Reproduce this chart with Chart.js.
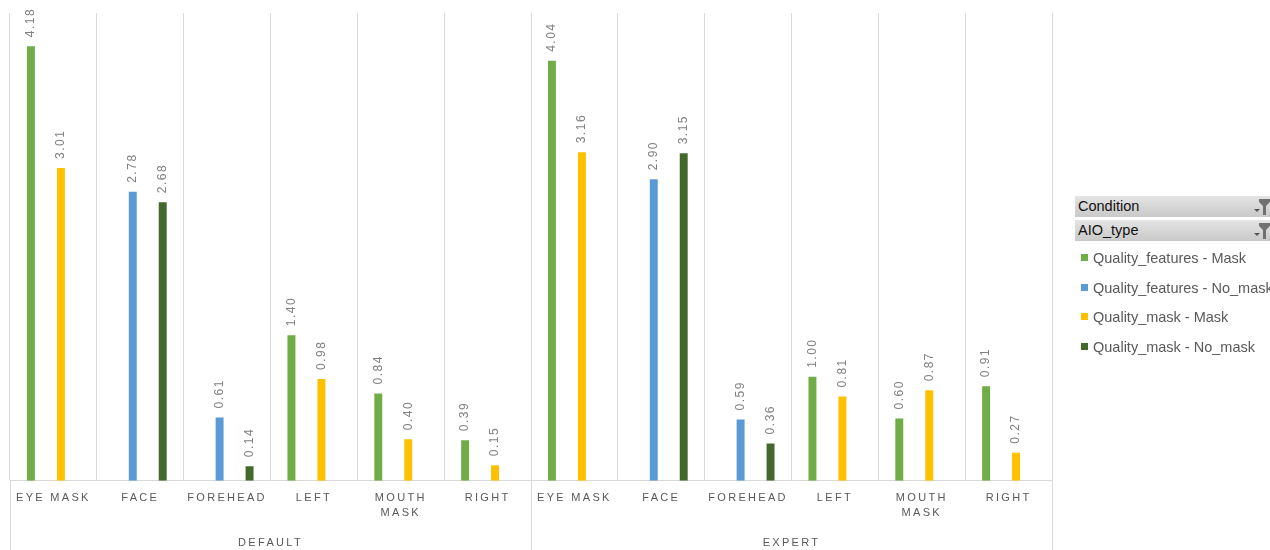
<!DOCTYPE html>
<html>
<head>
<meta charset="utf-8">
<script src="https://cdn.jsdelivr.net/npm/chart.js@4.4.1/dist/chart.umd.min.js"></script>
<style>
  html, body { margin: 0; padding: 0; background: #fff; overflow: hidden; }
  #wrap { position: relative; width: 1270px; height: 550px; overflow: hidden; }
  #canvas1 { position: absolute; left: 0; top: 0; }
  .fbtn {
    position: absolute; left: 1075px; width: 200px; height: 21px;
    background: linear-gradient(#e4e4e4, #c9c9c9);
    font: 14.5px "Liberation Sans", sans-serif; color: #111;
    line-height: 21px; padding-left: 3px; box-sizing: border-box;
  }
  .fbtn svg { position: absolute; left: 175px; top: 2px; }
  #legend { position: absolute; left: 1081px; top: 248px; width: 189px; overflow: hidden; }
  .item { height: 29.7px; white-space: nowrap; font: 14.5px "Liberation Sans", sans-serif; color: #595959; line-height: 20px; }
  .item i { display: inline-block; width: 7px; height: 7px; margin-right: 5px; vertical-align: 2px; }
</style>
</head>
<body>
<div id="wrap">
  <canvas id="canvas1" width="1270" height="557"></canvas>
  <div class="fbtn" style="top:196px">Condition<svg width="20" height="18"><polygon points="4,11 10,11 7,14" fill="#555"/><polygon points="9,1 20,1 20,4 16,8 16,17 13,17 13,8 9,4" fill="#707070"/></svg></div>
  <div class="fbtn" style="top:220px">AIO_type<svg width="20" height="18"><polygon points="4,11 10,11 7,14" fill="#555"/><polygon points="9,1 20,1 20,4 16,8 16,17 13,17 13,8 9,4" fill="#707070"/></svg></div>
  <div id="legend"></div>
</div>
<script>
var categories = ['EYE MASK','FACE','FOREHEAD','LEFT','MOUTH MASK','RIGHT',
                  'EYE MASK','FACE','FOREHEAD','LEFT','MOUTH MASK','RIGHT'];
var tick_labels = ['EYE MASK','FACE','FOREHEAD','LEFT',['MOUTH','MASK'],'RIGHT',
                   'EYE MASK','FACE','FOREHEAD','LEFT',['MOUTH','MASK'],'RIGHT'];
var groups = ['DEFAULT','EXPERT'];

var qf_mask    = [4.18, null, null, 1.40, 0.84, 0.39, 4.04, null, null, 1.00, 0.60, 0.91];
var qf_nomask  = [null, 2.78, 0.61, null, null, null, null, 2.90, 0.59, null, null, null];
var qm_mask    = [3.01, null, null, 0.98, 0.40, 0.15, 3.16, null, null, 0.81, 0.87, 0.27];
var qm_nomask  = [null, 2.68, 0.14, null, null, null, null, 3.15, 0.36, null, null, null];

var series_names = ['Quality_features - Mask','Quality_features - No_mask','Quality_mask - Mask','Quality_mask - No_mask'];
var series_colors = ['#70AD47','#5B9BD5','#FFC000','#43682B'];
var series_data = [qf_mask, qf_nomask, qm_mask, qm_nomask];

var datasets = [];
for (var i = 0; i < series_data.length; i++) {
  datasets.push({
    label: series_names[i],
    data: series_data[i],
    backgroundColor: series_colors[i],
    categoryPercentage: 0.69,
    barPercentage: 0.53
  });
}

// legend in html
var legend = '';
for (var j = 0; j < series_names.length; j++) {
  legend += '<div class="item"><i style="background:' + series_colors[j] + '"></i>' + series_names[j] + '</div>';
}
document.getElementById('legend').innerHTML = legend;

// rotated value labels + letter spacing of axis text + group separators
var extras = {
  id: 'extras',
  beforeDraw: function(chart) {
    chart.ctx.letterSpacing = '2.3px';
  },
  beforeDatasetsDraw: function(chart) {
    chart.ctx.letterSpacing = '0px';
  },
  afterDatasetsDraw: function(chart) {
    var ctx = chart.ctx;
    ctx.save();
    ctx.letterSpacing = '1.5px';
    ctx.font = '12px "Liberation Sans", sans-serif';
    ctx.fillStyle = '#808080';
    ctx.textAlign = 'left';
    ctx.textBaseline = 'middle';
    chart.data.datasets.forEach(function(ds, di) {
      var meta = chart.getDatasetMeta(di);
      meta.data.forEach(function(bar, k) {
        if (ds.data[k] == null) return;
        ctx.save();
        ctx.translate(bar.x, bar.y - 9);
        ctx.rotate(-Math.PI / 2);
        ctx.fillText(ds.data[k].toFixed(2), 0, 0);
        ctx.restore();
      });
    });
    ctx.restore();
  },
  afterDraw: function(chart) {
    var ctx = chart.ctx, xs = chart.scales.x;
    var mid = (xs.getPixelForValue(5) + xs.getPixelForValue(6)) / 2;
    ctx.save();
    ctx.strokeStyle = '#d9d9d9';
    ctx.lineWidth = 1;
    [xs.left, mid, xs.right].forEach(function(px) {
      var p = Math.round(px) + 0.5;
      ctx.beginPath();
      ctx.moveTo(p, chart.chartArea.bottom);
      ctx.lineTo(p, chart.height);
      ctx.stroke();
    });
    ctx.restore();
  }
};

var ctx = document.getElementById('canvas1').getContext('2d');
new Chart(ctx, {
  type: 'bar',
  data: { labels: tick_labels, datasets: datasets },
  options: {
    responsive: false,
    animation: false,
    layout: { padding: { left: 10, right: 218, top: 13, bottom: 0 } },
    plugins: { legend: { display: false }, tooltip: { enabled: false } },
    scales: {
      x: {
        offset: true,
        grid: { offset: true, drawTicks: false, color: '#d9d9d9' },
        border: { color: '#d9d9d9' },
        ticks: {
          autoSkip: false, maxRotation: 0, padding: 9,
          color: '#595959',
          font: { family: '"Liberation Sans", sans-serif', size: 11, lineHeight: 1.4 }
        }
      },
      x2: {
        type: 'category',
        labels: groups,
        position: 'bottom',
        offset: true,
        grid: { display: false, drawTicks: false },
        border: { display: false },
        ticks: {
          padding: 6, color: '#595959',
          font: { family: '"Liberation Sans", sans-serif', size: 11, lineHeight: 1.4 }
        }
      },
      y: { display: false, min: 0, max: 4.5 }
    }
  },
  plugins: [extras]
});
</script>
</body>
</html>
